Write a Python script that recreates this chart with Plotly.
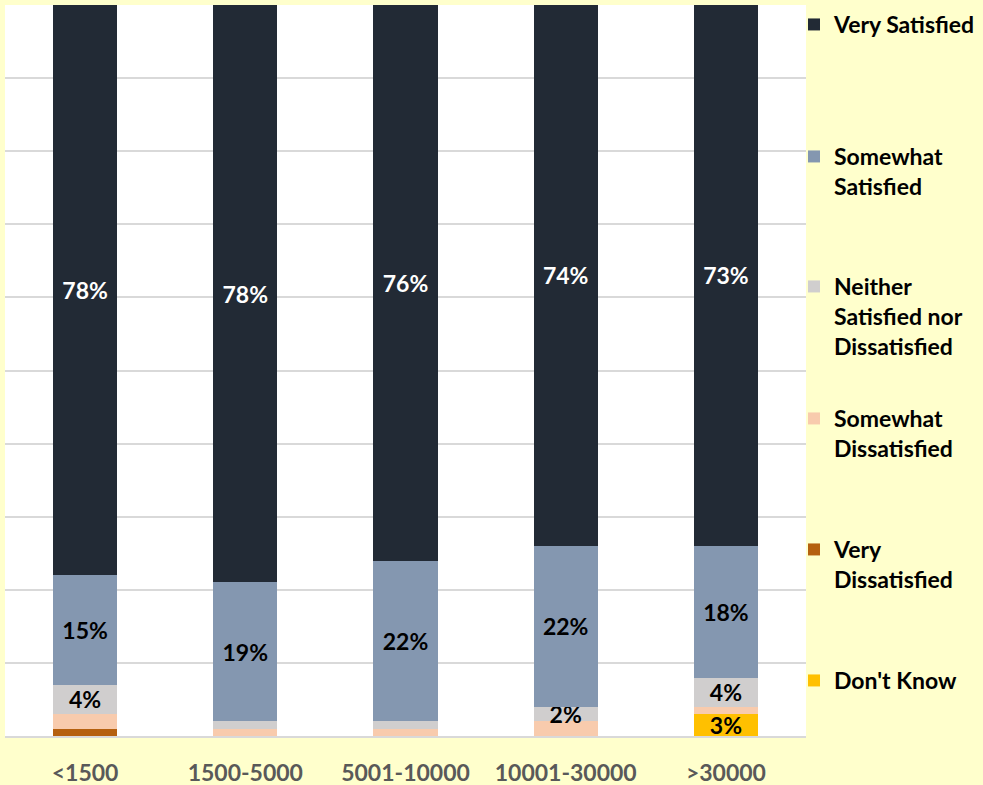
import plotly.graph_objects as go

categories = ["<1500", "1500-5000", "5001-10000", "10001-30000", ">30000"]

dont_know = [0, 0, 0, 0, 3]
very_dissatisfied = [1, 0, 0, 0, 0]
somewhat_dissatisfied = [2, 1, 1, 2, 1]
neither = [4, 1, 1, 2, 4]
somewhat_satisfied = [15, 19, 22, 22, 18]
very_satisfied = [78, 79, 76, 74, 74]

dont_know_labels = ["", "", "", "", "3%"]
very_dissatisfied_labels = ["", "", "", "", ""]
somewhat_dissatisfied_labels = ["", "", "", "", ""]
neither_labels = ["4%", "", "", "2%", "4%"]
somewhat_satisfied_labels = ["15%", "19%", "22%", "22%", "18%"]
very_satisfied_labels = ["78%", "78%", "76%", "74%", "73%"]

FONT = "Lato, 'Open Sans', sans-serif"

series = [
    ("Don't Know", dont_know, dont_know_labels, "#FFC000", "black"),
    ("Very<br>Dissatisfied", very_dissatisfied, very_dissatisfied_labels, "#B5600F", "black"),
    ("Somewhat<br>Dissatisfied", somewhat_dissatisfied, somewhat_dissatisfied_labels, "#F8CBAD", "black"),
    ("Neither<br>Satisfied nor<br>Dissatisfied", neither, neither_labels, "#D0CECE", "black"),
    ("Somewhat<br>Satisfied", somewhat_satisfied, somewhat_satisfied_labels, "#8497B0", "black"),
    ("Very Satisfied", very_satisfied, very_satisfied_labels, "#222A35", "white"),
]

# legend marker centres (pixels from top), bottom series first
legend_tops = [681, 550, 419, 287, 157, 25]

fig = go.Figure()
layout_legends = {}
plot_top, plot_bottom = 5, 736
for i, (name, vals, labels, color, tcolor) in enumerate(series):
    lname = "legend" if i == 0 else f"legend{i+1}"
    fig.add_trace(go.Bar(
        x=categories, y=vals, name=name, text=labels,
        marker=dict(color=color, line=dict(width=0)),
        textposition="inside", insidetextanchor="middle", textangle=0,
        insidetextfont=dict(color=tcolor, size=23, family=FONT, weight="bold"),
        legend=lname, hoverinfo="x+y+name",
    ))
    ytop = (plot_bottom - (legend_tops[i] - 22)) / (plot_bottom - plot_top)
    layout_legends[lname] = dict(
        x=0.985, xanchor="left", y=ytop, yanchor="top",
        bgcolor="rgba(0,0,0,0)", borderwidth=0, valign="top",
        font=dict(size=23, color="black", family=FONT, weight="bold"),
        itemwidth=30, tracegroupgap=0,
    )

fig.update_layout(
    barmode="stack",
    bargap=0.6,
    width=983, height=785,
    margin=dict(l=5, r=177, t=5, b=49, autoexpand=False),
    paper_bgcolor="#FFFFCC",
    plot_bgcolor="white",
    showlegend=True,
    uniformtext=dict(minsize=23, mode="show"),
    font=dict(family=FONT),
    **layout_legends,
)
fig.update_yaxes(range=[0, 100], dtick=10, showgrid=True, gridcolor="#D9D9D9",
                 gridwidth=1.5, showticklabels=False, zeroline=False, fixedrange=True)
fig.update_xaxes(showline=True, linecolor="#D9D9D9", linewidth=2,
                 tickfont=dict(size=23, color="#595959", family=FONT, weight="bold"),
                 ticks="", ticklabelstandoff=15)

fig.write_html("out.html", config={"displayModeBar": False},
               post_script="document.body.style.margin='0';document.body.style.overflow='hidden';")
